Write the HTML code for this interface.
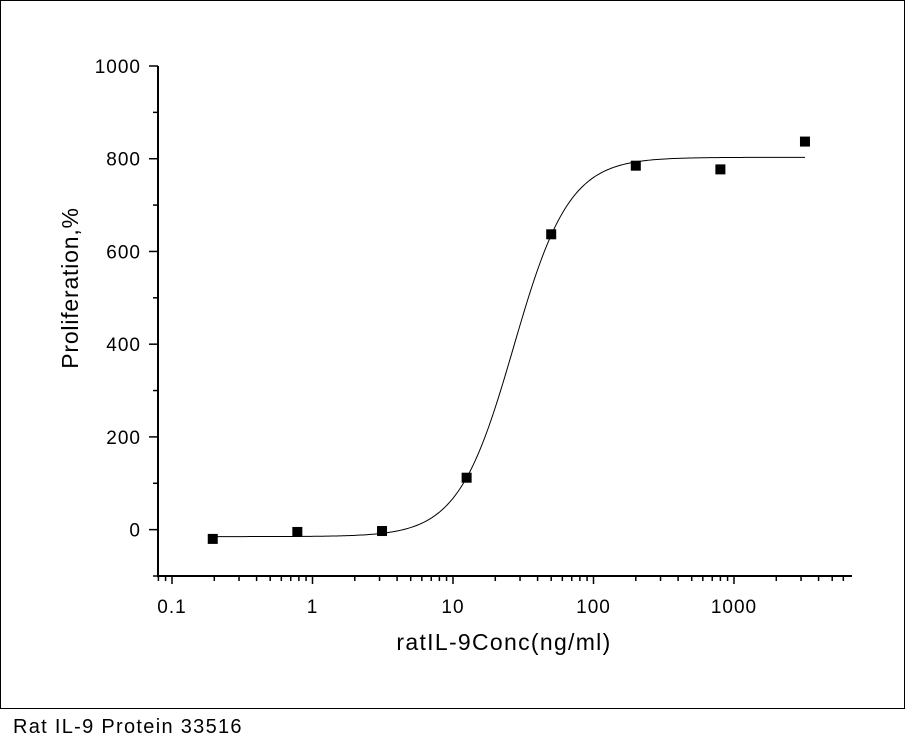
<!DOCTYPE html>
<html><head><meta charset="utf-8"><style>
html,body{margin:0;padding:0;background:#fff;}
body{width:905px;height:754px;position:relative;font-family:"Liberation Sans",Arial,sans-serif;}
#frame{position:absolute;left:0;top:0;width:903px;height:707px;border:1px solid #000;}
#cap{position:absolute;left:13px;top:716px;font-size:20px;letter-spacing:1.3px;color:#000;}
</style></head><body>
<div id="frame"></div>
<svg id="chart" width="905" height="708" style="position:absolute;left:0;top:0">
<g id="g"></g>
</svg>
<div id="cap">Rat IL-9 Protein 33516</div>
<script>
const concs=[0.195,0.78,3.125,12.5,50,200,800,3200];
const values=[-20,-5,-3,112,637,785,777,837];
const yTicks=[0,200,400,600,800,1000];
const xTicks=[0.1,1,10,100,1000];
const xTickLabels=["0.1","1","10","100","1000"];
const fitBottom=-15, fitTop=803, fitEC50=27, fitHill=2.2;

const X0=158,X1=852,Y0=576,Y1=66;
const lxMin=-1-14/140.5, lxMax=-1+(852-172)/140.5;
const yMin=-100,yMax=1000;
function sx(v){return X0+(Math.log10(v)-lxMin)/(lxMax-lxMin)*(X1-X0);}
function sy(v){return Y0-(v-yMin)/(yMax-yMin)*(Y0-Y1);}
const NS="http://www.w3.org/2000/svg";
const g=document.getElementById('g');
function mk(t,a){const e=document.createElementNS(NS,t);for(const k in a)e.setAttribute(k,a[k]);g.appendChild(e);return e;}
let e;
e=mk('line',{x1:X0,y1:Y1,x2:X0,y2:Y0+1,stroke:'#000','stroke-width':2});


e=mk('line',{x1:X0-1,y1:Y0,x2:X1,y2:Y0,stroke:'#000','stroke-width':2});


for(let v=-100;v<=1000;v+=100){
  const maj=yTicks.includes(v);
  e=mk('line',{x1:X0-(maj?9:5),y1:sy(v),x2:X0,y2:sy(v),stroke:'#000','stroke-width':1.5});
  
  
  if(maj){
    e=mk('text',{x:X0-17,y:sy(v)+7,'text-anchor':'end','font-size':19,'letter-spacing':1,'font-family':'Liberation Sans, Arial, sans-serif'});
    e.textContent=String(v);
    
    
  }
}
for(let d=-2;d<=3;d++){
  for(let m=1;m<=9;m++){
    const v=m*Math.pow(10,d);const px=sx(v);
    if(px<X0||px>X1)continue;
    e=mk('line',{x1:px,y1:Y0,x2:px,y2:Y0+(m===1?8:5),stroke:'#000','stroke-width':1.5});
    
    
  }
}
xTicks.forEach((v,i)=>{
  e=mk('text',{x:sx(v),y:Y0+37,'text-anchor':'middle','font-size':19,'letter-spacing':1,'font-family':'Liberation Sans, Arial, sans-serif'});
  e.textContent=xTickLabels[i];
  
  
});
e=mk('text',{x:504,y:650,'text-anchor':'middle','font-size':23,'letter-spacing':1.3,'font-family':'Liberation Sans, Arial, sans-serif'});
e.textContent='ratIL-9Conc(ng/ml)';


e=mk('text',{x:0,y:0,'text-anchor':'middle','font-size':23,'letter-spacing':0.8,transform:'translate(78,288) rotate(-90)','font-family':'Liberation Sans, Arial, sans-serif'});
e.textContent='Proliferation,%';


let pts=[];
const la=Math.log10(concs[0]),lb=Math.log10(concs[concs.length-1]);
for(let i=0;i<=300;i++){
  const x=Math.pow(10,la+(lb-la)*i/300);
  const y=fitBottom+(fitTop-fitBottom)/(1+Math.pow(fitEC50/x,fitHill));
  pts.push(sx(x).toFixed(2)+','+sy(y).toFixed(2));
}
e=mk('polyline',{points:pts.join(' '),fill:'none',stroke:'#000','stroke-width':1});


concs.forEach((c,i)=>{
  e=mk('rect',{x:sx(c)-5,y:sy(values[i])-5,width:10,height:10,fill:'#000'});
  
  
});
</script>
</body></html>
